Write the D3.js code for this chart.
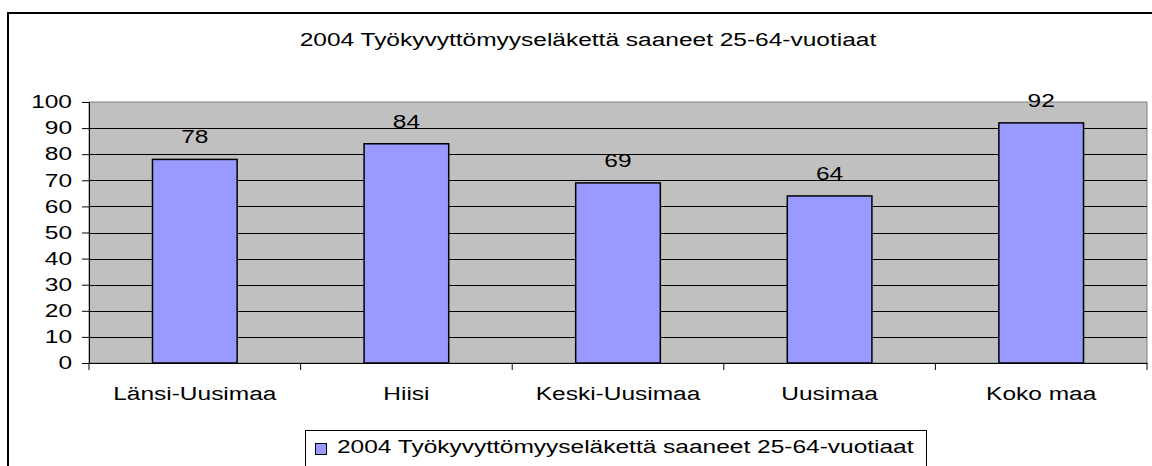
<!DOCTYPE html>
<html>
<head>
<meta charset="utf-8">
<script src="https://cdn.jsdelivr.net/npm/d3@7"></script>
<style>
  body { margin: 0; background: #fff; }
  text { font-family: "Liberation Sans", Arial, sans-serif; fill: #000; }
</style>
</head>
<body>
<script>
let width = 1152;
let height = 466;

let categories = ["Länsi-Uusimaa", "Hiisi", "Keski-Uusimaa", "Uusimaa", "Koko maa"];
let values = [78, 84, 69, 64, 92];
let yTicks = [0, 10, 20, 30, 40, 50, 60, 70, 80, 90, 100];
let title = "2004 Työkyvyttömyyseläkettä saaneet 25-64-vuotiaat";
let seriesName = "2004 Työkyvyttömyyseläkettä saaneet 25-64-vuotiaat";

// the original renders its text wide, so stretch every label a bit
let stretch = 1.36;
function widen(sel) {
    sel.each(function() {
        let len = this.getComputedTextLength();
        d3.select(this)
            .attr("textLength", len * stretch)
            .attr("lengthAdjust", "spacingAndGlyphs");
    });
}

let svg = d3.select("body")
    .append("svg")
    .attr("width", width)
    .attr("height", height);

// outer chart frame
svg.append("rect")
    .attr("x", 8).attr("y", 13)
    .attr("width", 1160).attr("height", 480)
    .attr("fill", "#fff")
    .attr("stroke", "#000")
    .attr("stroke-width", 2);

let plot = { left: 89, right: 1147, top: 102, bottom: 363 };

let x = d3.scaleBand()
    .domain(categories)
    .range([plot.left, plot.right])
    .padding(0);

let y = d3.scaleLinear()
    .domain([0, 100])
    .range([plot.bottom, plot.top]);

// plot background
svg.append("rect")
    .attr("x", plot.left).attr("y", plot.top)
    .attr("width", plot.right - plot.left)
    .attr("height", plot.bottom - plot.top)
    .attr("fill", "#c0c0c0")
    .attr("stroke", "#808080")
    .attr("stroke-width", 1);

// gridlines
svg.selectAll(".grid")
    .data(yTicks.filter(d => d > 0 && d < 100))
    .enter().append("line")
    .attr("class", "grid")
    .attr("x1", plot.left).attr("x2", plot.right)
    .attr("y1", d => Math.round(y(d)) + 0.5)
    .attr("y2", d => Math.round(y(d)) + 0.5)
    .attr("stroke", "#000")
    .attr("stroke-width", 1);

// y axis
let yAxis = svg.append("g")
    .attr("transform", `translate(${plot.left},0)`)
    .call(d3.axisLeft(y).tickValues(yTicks).tickSize(7).tickPadding(10));
yAxis.select(".domain").attr("stroke", "#000");
yAxis.selectAll("text")
    .style("font-size", "18px")
    .style("font-family", "'Liberation Sans', Arial, sans-serif")
    .call(widen);

// x axis
let xAxis = svg.append("g")
    .attr("transform", `translate(0,${plot.bottom})`)
    .call(d3.axisBottom(x).tickSize(0).tickPadding(24));
xAxis.select(".domain").attr("stroke", "#000");
xAxis.selectAll("text")
    .style("font-size", "18px")
    .style("font-family", "'Liberation Sans', Arial, sans-serif")
    .call(widen);

// category boundary ticks
let bounds = categories.map(c => x(c)).concat([plot.right]);
svg.selectAll(".xtick")
    .data(bounds)
    .enter().append("line")
    .attr("class", "xtick")
    .attr("x1", d => d).attr("x2", d => d)
    .attr("y1", plot.bottom).attr("y2", plot.bottom + 7)
    .attr("stroke", "#000");

// bars
let barW = x.bandwidth() * 0.4;
svg.selectAll(".bar")
    .data(values)
    .enter().append("rect")
    .attr("class", "bar")
    .attr("x", (d, i) => x(categories[i]) + (x.bandwidth() - barW) / 2)
    .attr("y", d => y(d))
    .attr("width", barW)
    .attr("height", d => plot.bottom - y(d))
    .attr("fill", "#9999ff")
    .attr("stroke", "#000")
    .attr("stroke-width", 1.5);

// value labels
svg.selectAll(".val")
    .data(values)
    .enter().append("text")
    .attr("class", "val")
    .attr("x", (d, i) => x(categories[i]) + x.bandwidth() / 2)
    .attr("y", d => y(d) - 16)
    .attr("text-anchor", "middle")
    .style("font-size", "18px")
    .text(d => d)
    .call(widen);

// title
svg.append("text")
    .attr("x", 588)
    .attr("y", 46)
    .attr("text-anchor", "middle")
    .style("font-size", "18px")
    .text(title)
    .call(widen);

// legend
let legend = svg.append("g");
legend.append("rect")
    .attr("x", 305.5).attr("y", 430.5)
    .attr("width", 621).attr("height", 60)
    .attr("fill", "#fff")
    .attr("stroke", "#000")
    .attr("stroke-width", 1);
legend.append("rect")
    .attr("x", 315.5).attr("y", 443.5)
    .attr("width", 11).attr("height", 11)
    .attr("fill", "#9999ff")
    .attr("stroke", "#000");
legend.append("text")
    .attr("x", 337)
    .attr("y", 453)
    .style("font-size", "18px")
    .text(seriesName)
    .call(widen);
</script>
</body>
</html>
